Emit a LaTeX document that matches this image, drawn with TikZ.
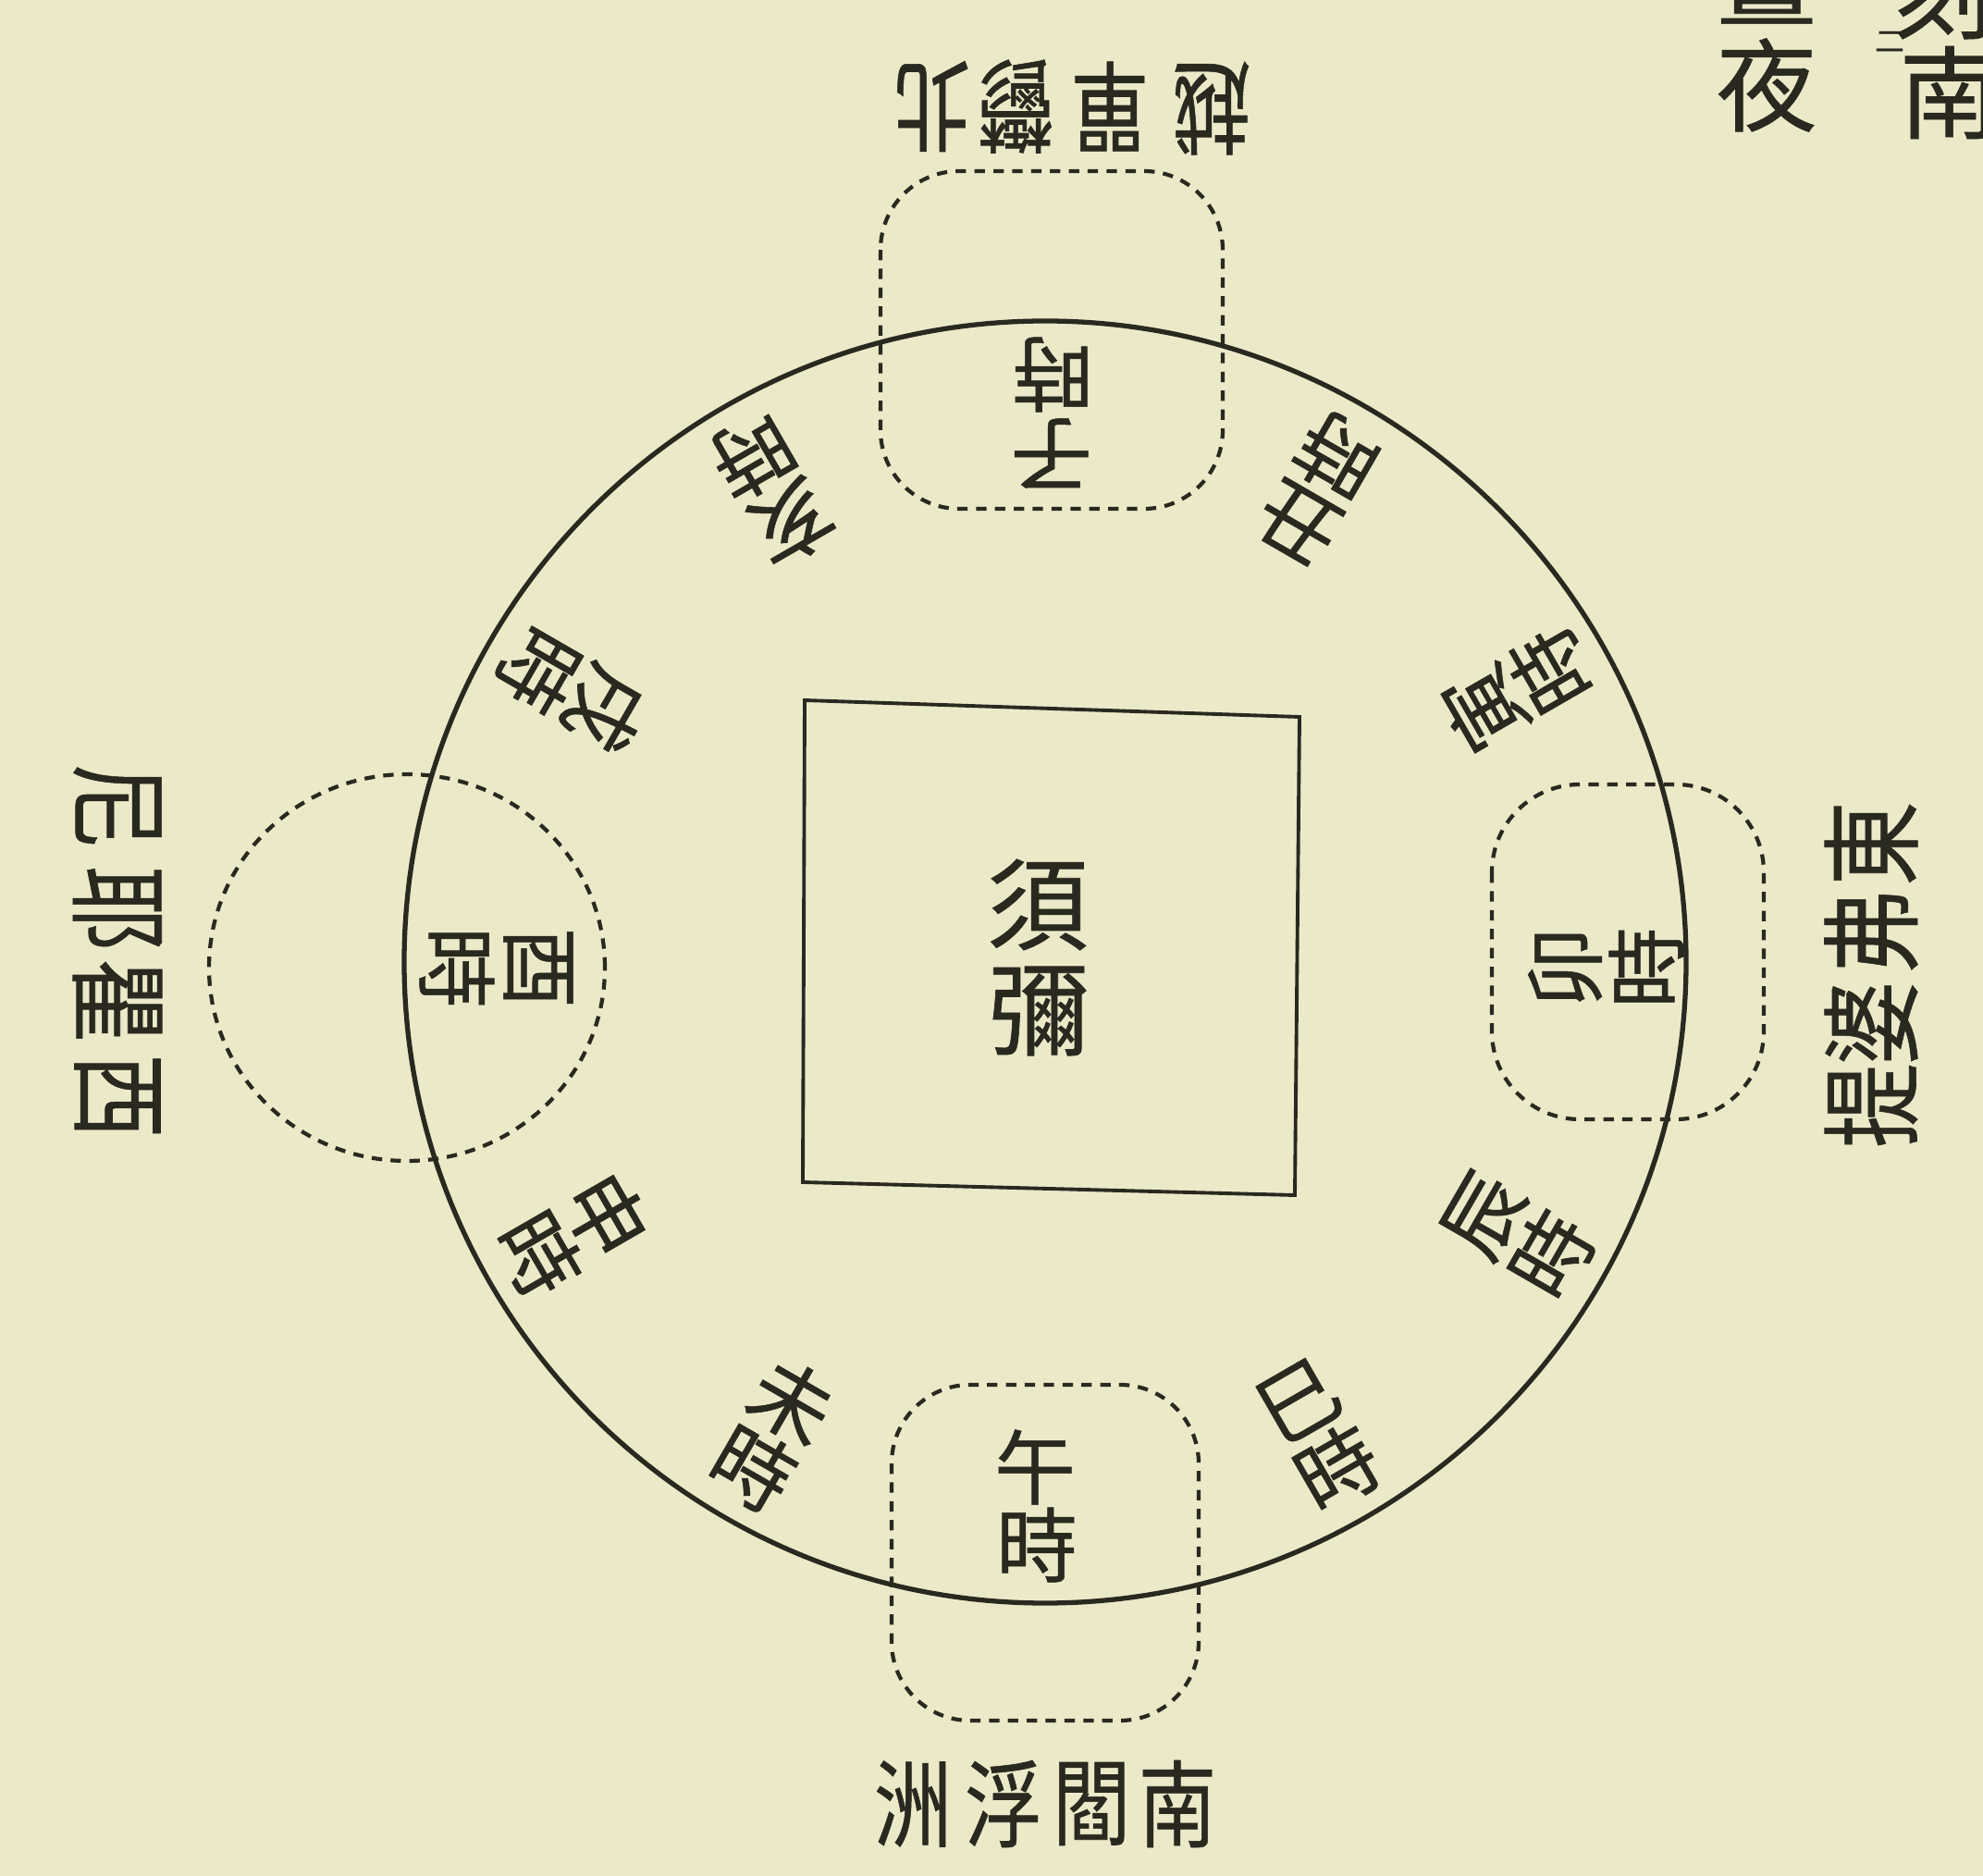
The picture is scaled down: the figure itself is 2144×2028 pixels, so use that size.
\documentclass[tikz,border=0pt]{standalone}
\usepackage{fontspec}
\newfontfamily\cjk{Noto Sans CJK TC}[FakeBold=0.6]
\usetikzlibrary{calc}
\definecolor{paper}{HTML}{ECE9C9}
\definecolor{ink}{HTML}{2A2920}
\begin{document}
\begin{tikzpicture}[x=0.01cm,y=0.01cm,
  hourch/.style={text=ink, font=\cjk\fontsize{25}{25}\selectfont, inner sep=0pt},
  landch/.style={text=ink, font=\cjk\fontsize{26}{26}\selectfont, inner sep=0pt, xscale=0.92},
  bigtxt/.style={text=ink, font=\cjk\fontsize{31}{33}\selectfont, inner sep=0pt},
  pagetxt/.style={text=ink, font=\cjk\fontsize{31}{33}\selectfont, inner sep=0pt},
  dotline/.style={draw=ink, line width=1.2pt, dash pattern=on 3.2pt off 2.6pt},
]
\useasboundingbox (0,0) rectangle (2144,-2028);
\clip (0,0) rectangle (2144,-2028);
\fill[paper] (0,0) rectangle (2144,-2028);
\coordinate (O) at (1130,-1040);
% world circle
\draw[ink, line width=1.5pt] (O) circle (693);
% Mount Sumeru
\draw[ink, line width=1.1pt] (870,-757) -- (1405,-775) -- (1400,-1292) -- (868,-1278) -- cycle;
\node[bigtxt] (su) at (1122,-978) {須};
\node[bigtxt] (mi) at (1123,-1093) {彌};
% dotted regions of the four continents
\draw[dotline, rounded corners=0.85cm] (952,-185) rectangle (1322,-550);
\draw[dotline, rounded corners=0.95cm] (1613,-848) rectangle (1907,-1210);
\draw[dotline, rounded corners=0.85cm] (964,-1497) rectangle (1296,-1860);
\draw[dotline] (440,-1046) ellipse (214 and 209);
% twelve hours: the top of each sign faces Sumeru
\node[hourch, rotate=180] (zi1) at (1137,-490) {子};
\node[hourch, rotate=180] (zi2) at (1138,-405) {時};
\node[hourch, rotate=90] (mao1) at (1692,-1046) {卯};
\node[hourch, rotate=90] (mao2) at (1780,-1046) {時};
\node[hourch] (wu1) at (1119,-1586) {午};
\node[hourch] (wu2) at (1121,-1670) {時};
\node[hourch, rotate=-90] (you1) at (582,-1046) {酉};
\node[hourch, rotate=-90] (you2) at (494,-1046) {時};
\foreach \a/\t in {60/丑, 30/寅, -30/辰, -60/巳, -120/未, -150/申, 150/戌, 120/亥}{
  \node[hourch, rotate=\a+90] (h\t a) at ($(O)+(\a:548)$) {\t};
  \node[hourch, rotate=\a+90] (h\t b) at ($(O)+(\a:632)$) {時};
}
% four continents
\node[landch, rotate=180, yscale=1.2] (n1) at (1007,-115) {北};
\node[landch, rotate=180, yscale=1.2] (n2) at (1098,-115) {鬱};
\node[landch, rotate=180, yscale=1.2] (n3) at (1200,-115) {單};
\node[landch, rotate=180, yscale=1.2] (n4) at (1310,-117) {越};
\node[landch, rotate=90, yscale=1.3] (e1) at (2023,-912) {東};
\node[landch, rotate=90, yscale=1.3] (e2) at (2023,-1007) {弗};
\node[landch, rotate=90, yscale=1.3] (e3) at (2023,-1106) {婆};
\node[landch, rotate=90, yscale=1.3] (e4) at (2023,-1195) {提};
\node[landch, rotate=-90, yscale=1.3] (w1) at (127,-1185) {西};
\node[landch, rotate=-90, yscale=1.3] (w2) at (127,-1082) {瞿};
\node[landch, rotate=-90, yscale=1.3] (w3) at (127,-982) {耶};
\node[landch, rotate=-90, yscale=1.3] (w4) at (127,-872) {尼};
\node[landch, yscale=1.12] (s1) at (1273,-1950) {南};
\node[landch, yscale=1.12] (s2) at (1180,-1950) {閻};
\node[landch, yscale=1.12] (s3) at (1085,-1950) {浮};
\node[landch, yscale=1.12] (s4) at (987,-1950) {洲};
% text of the neighbouring page
\node[pagetxt] (p1) at (1910,-92) {夜};
\node[pagetxt] (p0) at (1910,23) {晝};
\node[pagetxt] (p2) at (2108,-100) {南};
\node[pagetxt] (p3) at (2100,8) {刻};
\node[text=ink, font=\cjk\fontsize{9}{10}\selectfont, inner sep=0pt] (mark) at (2043,-45) {二};
\end{tikzpicture}
\end{document}
